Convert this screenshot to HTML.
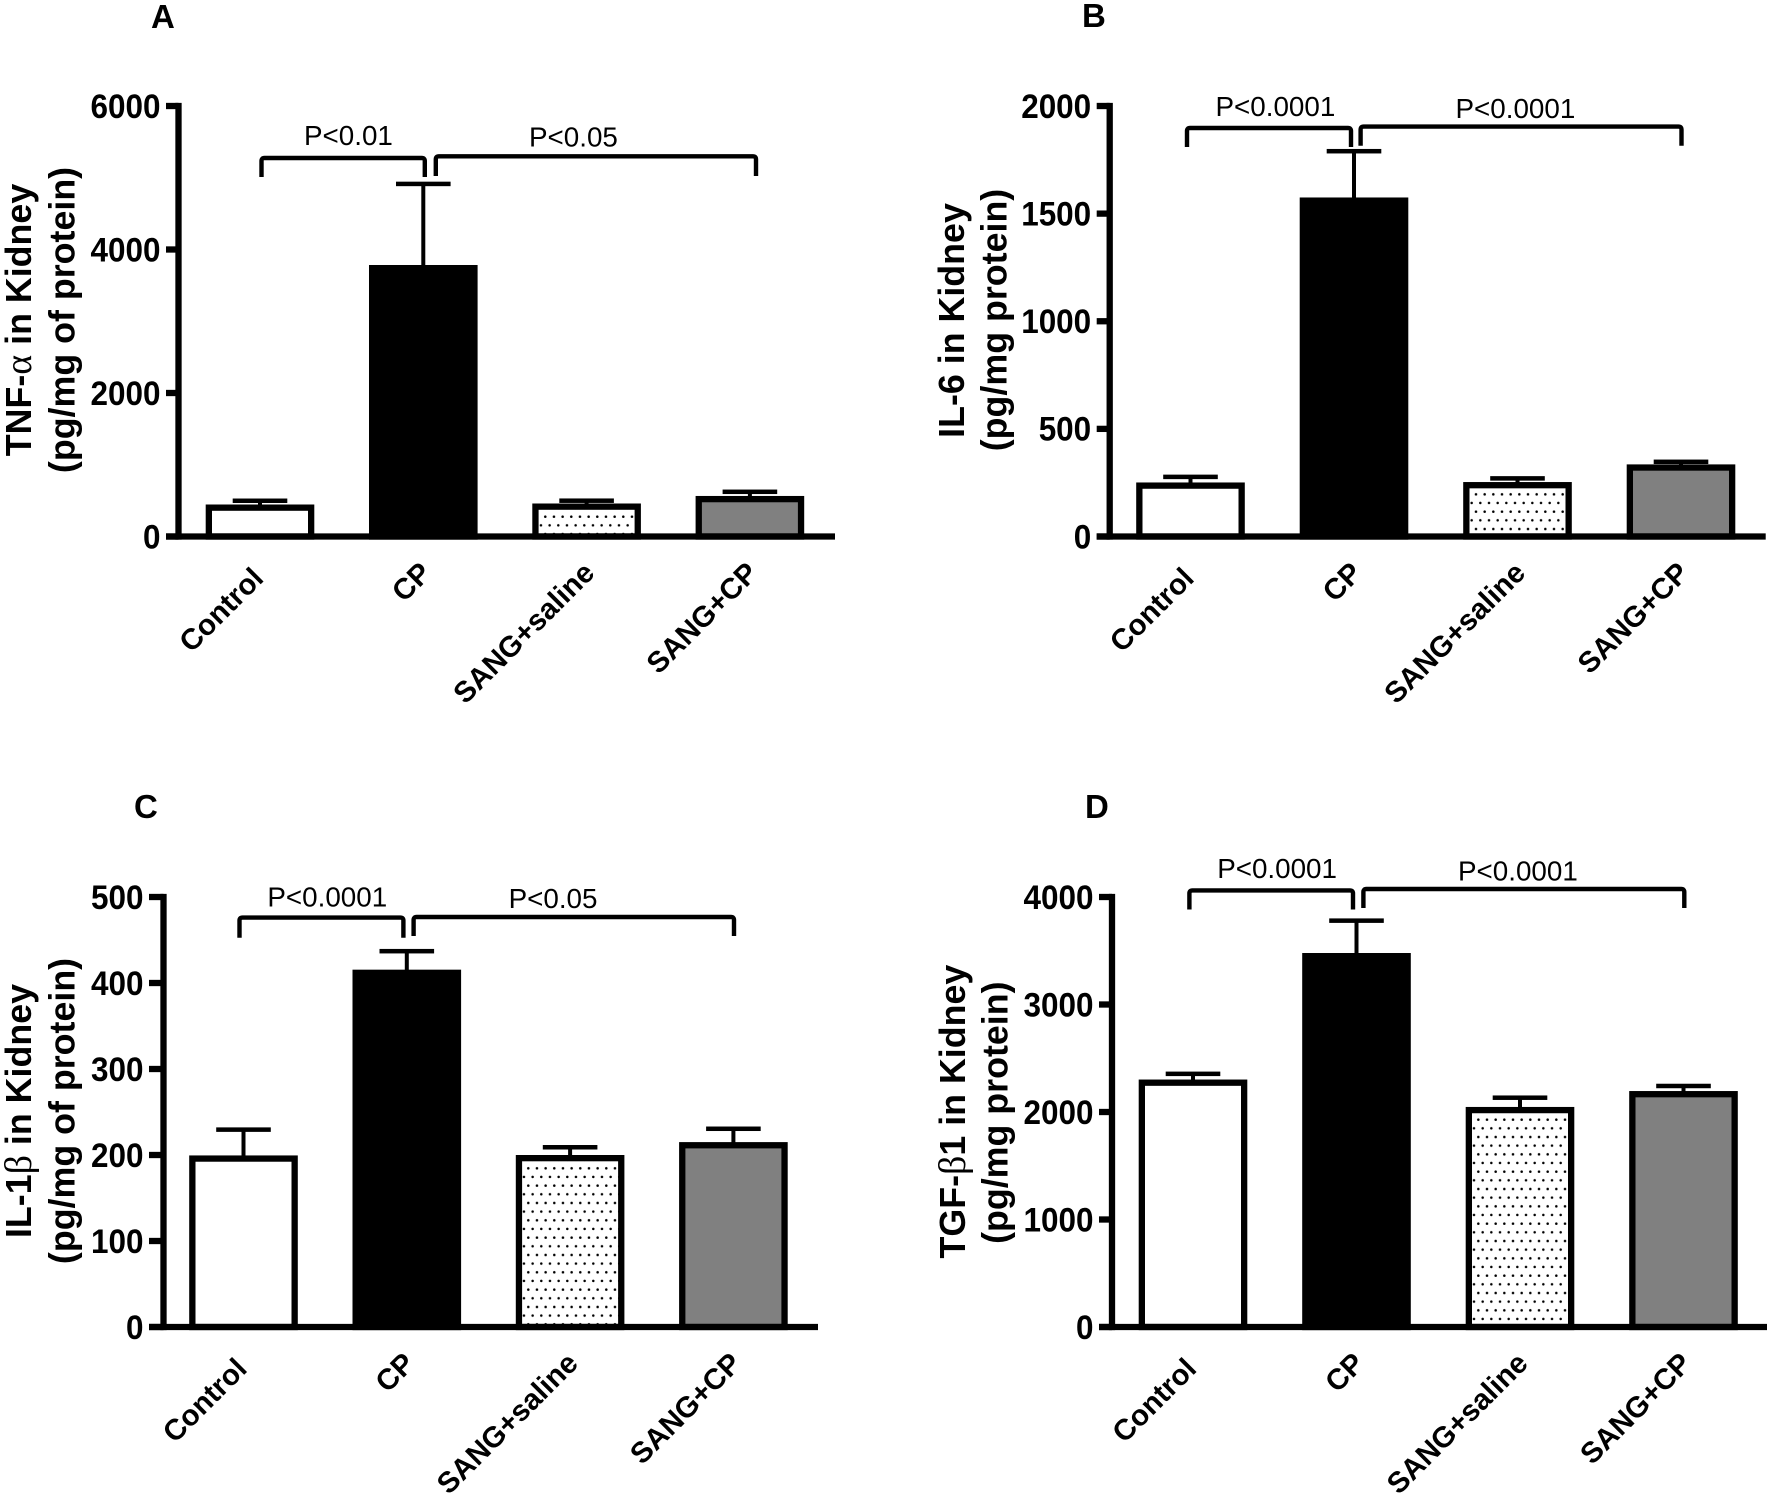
<!DOCTYPE html>
<html lang="en">
<head>
<meta charset="utf-8">
<title>Kidney cytokine bar charts</title>
<style>
html,body{margin:0;padding:0;background:#fff;width:1772px;height:1498px;overflow:hidden}
svg{display:block}
text{font-family:"Liberation Sans",Arial,sans-serif;fill:#000}
</style>
</head>
<body>
<svg id="figure" xmlns="http://www.w3.org/2000/svg" width="1772" height="1498" viewBox="0 0 1772 1498">
<rect x="0" y="0" width="1772" height="1498" fill="#fff"/>
</svg>
<script>
var categories = ["Control", "CP", "SANG+saline", "SANG+CP"];
var categorySlugs = ["control", "cp", "sang-saline", "sang-cp"];

var tnfMeans = [446, 3784, 460, 565];
var tnfErrorTops = [498, 4914, 499, 623];
var tnfTicks = [0, 2000, 4000, 6000];

var il6Means = [251, 1575, 253, 335];
var il6ErrorTops = [277, 1790, 270, 347];
var il6Ticks = [0, 500, 1000, 1500, 2000];

var il1Means = [199.5, 415.5, 200, 215];
var il1ErrorTops = [229.5, 437, 209, 230.5];
var il1Ticks = [0, 100, 200, 300, 400, 500];

var tgfMeans = [2302, 3479, 2047, 2195];
var tgfErrorTops = [2355, 3780, 2133, 2242];
var tgfTicks = [0, 1000, 2000, 3000, 4000];

var panels = [
  {id:"a", letter:"A", lx:151, ly:28, means:tnfMeans, errs:tnfErrorTops, ticks:tnfTicks,
   axisX:178.5, tickL:166, endX:835, top:106, zero:536.5, c0:260, step:163.3, dots:[543.13,514.53],
   title:[{t:"TNF-α in Kidney", x:31, y:320},{t:"(pg/mg of protein)", x:74.5, y:320}],
   brackets:[{x1:261.5,x2:424.8,y:158,b:177},{x1:435.8,x2:756,y:156.3,b:176}],
   pvals:[{t:"P<0.01",x:305,y:145},{t:"P<0.05",x:530,y:146.7}]},
  {id:"b", letter:"B", lx:1082, ly:27, means:il6Means, errs:il6ErrorTops, ticks:il6Ticks,
   axisX:1109.7, tickL:1096.7, endX:1765.7, top:106, zero:536.5, c0:1190.5, step:163.5, dots:[1473.83,492.17],
   title:[{t:"IL-6 in Kidney", x:964, y:320.5},{t:"(pg/mg protein)", x:1006.5, y:320}],
   brackets:[{x1:1187,x2:1351,y:128,b:147},{x1:1360.6,x2:1681.5,y:126.6,b:145.7}],
   pvals:[{t:"P<0.0001",x:1216.5,y:116},{t:"P<0.0001",x:1456.5,y:118}]},
  {id:"c", letter:"C", lx:134, ly:818, means:il1Means, errs:il1ErrorTops, ticks:il1Ticks,
   axisX:163.5, tickL:149, endX:818, top:897, zero:1327, c0:243.5, step:163.3, dots:[526.13,1166.13],
   title:[{t:"IL-1β in Kidney", x:31, y:1111},{t:"(pg/mg of protein)", x:74.5, y:1111}],
   brackets:[{x1:239.5,x2:403.4,y:917.6,b:937.7},{x1:413.6,x2:734,y:917,b:936}],
   pvals:[{t:"P<0.0001",x:268.4,y:906.6},{t:"P<0.05",x:509.6,y:908}]},
  {id:"d", letter:"D", lx:1085, ly:818, means:tgfMeans, errs:tgfErrorTops, ticks:tgfTicks,
   axisX:1112, tickL:1099, endX:1767, top:897, zero:1327, c0:1193, step:163.5, dots:[1476.17,1117.5],
   title:[{t:"TGF-β1 in Kidney", x:965, y:1111.6},{t:"(pg/mg protein)", x:1007.5, y:1112.7}],
   brackets:[{x1:1189.4,x2:1353,y:890.4,b:909.5},{x1:1363.4,x2:1684.3,y:889,b:908}],
   pvals:[{t:"P<0.0001",x:1218.2,y:878},{t:"P<0.0001",x:1459,y:880.4}]}
];

var NS = "http://www.w3.org/2000/svg";
var svg = document.getElementById("figure");

function mk(tag, attrs, parent) {
  var e = document.createElementNS(NS, tag);
  for (var k in attrs) { e.setAttribute(k, attrs[k]); }
  (parent || svg).appendChild(e);
  return e;
}

function fillTitle(el, str) {
  var parts = str.split(/([αβ])/);
  parts.forEach(function (p) {
    if (!p) { return; }
    var ts = document.createElementNS(NS, "tspan");
    if (p === "α" || p === "β") {
      ts.setAttribute("font-family", '"Liberation Serif", serif');
      ts.setAttribute("font-weight", "normal");
      ts.setAttribute("font-size", "38");
    }
    ts.textContent = p;
    el.appendChild(ts);
  });
}

var defs = mk("defs", {});

panels.forEach(function (P) {
  var AXW = 6.3, BORDER = 6.3, BARW = 108.6, CAPW = 54.6, CAPH = 4.5, STEMW = 4;
  var yScale = function (v) { return P.zero - (v / P.ticks[P.ticks.length - 1]) * (P.zero - P.top); };
  var xScale = function (i) { return P.c0 + i * P.step; };

  var pat = mk("pattern", {id:"dots-" + P.id, patternUnits:"userSpaceOnUse", x:P.dots[0], y:P.dots[1], width:8.667, height:17.333}, defs);
  mk("rect", {x:0, y:0, width:8.667, height:17.333, fill:"#fff"}, pat);
  mk("circle", {cx:2.167, cy:2.167, r:1.25, fill:"#000"}, pat);
  mk("circle", {cx:6.5, cy:10.833, r:1.25, fill:"#000"}, pat);

  var g = mk("g", {});
  
  

  var letter = mk("text", {x:P.lx, y:P.ly, "font-size":33, "font-weight":"bold"}, g);
  letter.textContent = P.letter;
  
  

  P.title.forEach(function (line, i) {
    var tt = mk("text", {x:0, y:0, "font-size":35.8, "font-weight":"bold", "text-anchor":"middle",
      transform:"translate(" + line.x + "," + line.y + ") rotate(-90)"}, g);
    fillTitle(tt, line.t);
    
    
  });

  categories.forEach(function (name, i) {
    var left = xScale(i) - BARW / 2;
    var topY = yScale(P.means[i]);
    var errY = yScale(P.errs[i]);

    var stem = mk("line", {x1:xScale(i), x2:xScale(i), y1:topY + 1, y2:errY, stroke:"#000", "stroke-width":STEMW}, g);
    
    

    var cap = mk("rect", {x:xScale(i) - CAPW / 2, y:errY - CAPH / 2, width:CAPW, height:CAPH, fill:"#000"}, g);
    
    

    var fills = ["#fff", "#000", "url(#dots-" + P.id + ")", "#808080"];
    var bar = mk("rect", {x:left + BORDER / 2, y:topY + BORDER / 2, width:BARW - BORDER,
      height:Math.max(0, P.zero - topY - BORDER / 2), fill:fills[i], stroke:"#000", "stroke-width":BORDER}, g);
    
    

    var lblDx = i === 0 ? 5 : 9.5;
    var lblDy = i === 0 ? 43.5 : 38;
    var lbl = mk("text", {x:0, y:0, "font-size":29.3, "font-weight":"bold", "text-anchor":"end",
      transform:"translate(" + (xScale(i) + lblDx) + "," + (P.zero + lblDy) + ") rotate(-45)"}, g);
    lbl.textContent = name;
    
    
  });

  var yAxis = mk("line", {x1:P.axisX, x2:P.axisX, y1:P.top - AXW / 2, y2:P.zero + AXW / 2, stroke:"#000", "stroke-width":AXW}, g);
  
  

  var xAxis = mk("line", {x1:P.tickL, x2:P.endX, y1:P.zero, y2:P.zero, stroke:"#000", "stroke-width":AXW}, g);
  
  

  P.ticks.forEach(function (t) {
    var tick = mk("line", {x1:P.tickL, x2:P.axisX, y1:yScale(t), y2:yScale(t), stroke:"#000", "stroke-width":AXW}, g);
    
    

    var label = String(t);
    var tl = mk("text", {x:P.tickL - 5.5, y:yScale(t) + 11.8, "font-size":34, "font-weight":"bold", "text-anchor":"end",
      textLength:label.length * 17.5, lengthAdjust:"spacingAndGlyphs"}, g);
    tl.textContent = label;
    
    
  });

  P.brackets.forEach(function (b, i) {
    var r = 3;
    var d = "M" + b.x1 + " " + b.b + "V" + (b.y + r) + "Q" + b.x1 + " " + b.y + " " + (b.x1 + r) + " " + b.y +
            "H" + (b.x2 - r) + "Q" + b.x2 + " " + b.y + " " + b.x2 + " " + (b.y + r) + "V" + b.b;
    var br = mk("path", {d:d, fill:"none", stroke:"#000", "stroke-width":4.4}, g);
    
    
  });

  P.pvals.forEach(function (p, i) {
    var pt = mk("text", {x:p.x - 1, y:p.y, "font-size":27.8}, g);
    pt.textContent = p.t;
    
    
  });
});
</script>
</body>
</html>
